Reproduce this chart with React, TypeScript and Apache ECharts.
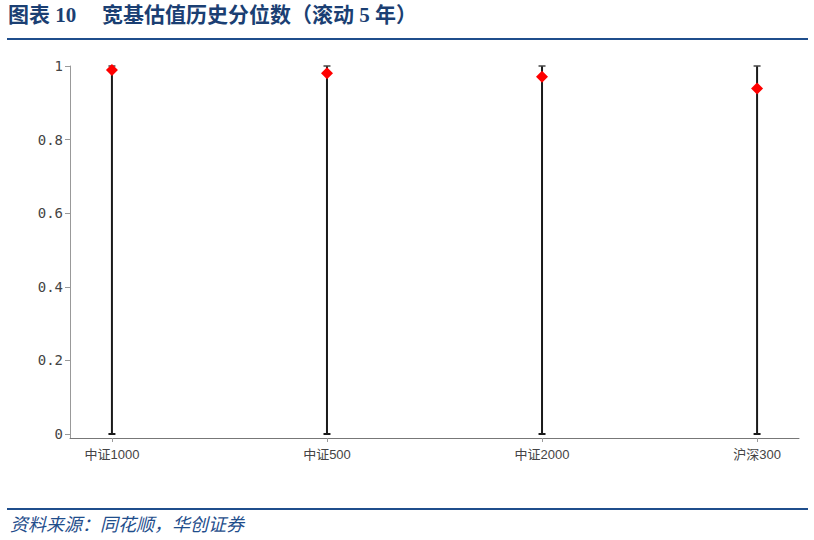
import * as echarts from 'echarts'
import { useEffect, useRef } from 'react'

// chart data
const categories = ['中证1000', '中证500', '中证2000', '沪深300']
const lowValues = [0, 0, 0, 0]
const highValues = [1, 1, 1, 1]
const currentValues = [0.989, 0.98, 0.971, 0.939]
const yTicks = [0, 0.2, 0.4, 0.6, 0.8, 1]

const titleLabel = '图表 10'
const titleText = '宽基估值历史分位数（滚动 5 年）'
const sourceText = '资料来源：同花顺，华创证券'

const BLUE = '#1f4e8c'
const TITLE_FONT = 'Liberation Serif, Noto Sans CJK SC'

const App: React.FC = () => {
  const chartRef = useRef<HTMLDivElement>(null)

  useEffect(() => {
    if (!chartRef.current) return
    const chart = echarts.init(chartRef.current, undefined, { renderer: 'svg' })

    const rangeData = categories.map((_, i) => [i, lowValues[i], highValues[i]])
    const pointData = categories.map((_, i) => [i, currentValues[i]])

    chart.setOption({
      animation: false,
      backgroundColor: '#fff',
      grid: { left: 70, right: 15, top: 66, bottom: 102 },
      xAxis: {
        type: 'value',
        min: -0.195,
        max: 3.195,
        splitLine: { show: false },
        axisLine: { show: true, onZero: false, lineStyle: { color: '#777', width: 1 } },
        axisTick: { show: true, customValues: [0, 1, 2, 3], length: 4, lineStyle: { color: '#999' } },
        axisLabel: {
          customValues: [0, 1, 2, 3],
          formatter: (v: number) => categories[Math.round(v)] ?? '',
          color: '#444',
          fontSize: 13,
          margin: 10,
          fontFamily: 'Liberation Sans, Noto Sans CJK SC',
        },
      },
      yAxis: {
        type: 'value',
        min: -0.0109,
        max: 1,
        splitLine: { show: false },
        axisLine: { show: true, onZero: false, lineStyle: { color: '#999', width: 1 } },
        axisTick: { show: true, customValues: yTicks, length: 5, lineStyle: { color: '#999' } },
        axisLabel: {
          customValues: yTicks,
          formatter: (v: number) => String(Math.round(v * 10) / 10),
          color: '#444',
          fontSize: 14,
          margin: 7,
          fontFamily: 'DejaVu Sans Mono',
        },
      },
      series: [
        {
          type: 'custom',
          data: rangeData,
          encode: { x: 0, y: [1, 2] },
          clip: false,
          z: 2,
          renderItem: (_params: any, api: any) => {
            const x = api.value(0)
            const lo = api.coord([x, api.value(1)])
            const hi = api.coord([x, api.value(2)])
            const half = 3.5
            return {
              type: 'group',
              children: [
                {
                  type: 'line',
                  shape: { x1: lo[0], y1: lo[1], x2: hi[0], y2: hi[1] },
                  style: { stroke: '#1a1a1a', lineWidth: 2 },
                },
                {
                  type: 'line',
                  shape: { x1: hi[0] - half, y1: hi[1], x2: hi[0] + half, y2: hi[1] },
                  style: { stroke: '#444', lineWidth: 1.5 },
                },
                {
                  type: 'line',
                  shape: { x1: lo[0] - half, y1: lo[1], x2: lo[0] + half, y2: lo[1] },
                  style: { stroke: '#1a1a1a', lineWidth: 2 },
                },
              ],
            }
          },
        },
        {
          type: 'scatter',
          data: pointData,
          symbol: 'diamond',
          symbolSize: [12, 12],
          itemStyle: { color: '#ff0000', opacity: 1 },
          z: 3,
        },
      ],
      graphic: [
        {
          type: 'text',
          left: 8,
          top: 4,
          style: {
            text: titleLabel,
            fill: '#1b3f73',
            fontSize: 21,
            fontWeight: 'bold',
            fontFamily: TITLE_FONT,
          },
        },
        {
          type: 'text',
          left: 102,
          top: 4,
          style: {
            text: titleText,
            fill: '#1b3f73',
            fontSize: 21,
            fontWeight: 'bold',
            fontFamily: TITLE_FONT,
          },
        },
        {
          type: 'rect',
          shape: { x: 7, y: 38, width: 801, height: 2 },
          style: { fill: BLUE },
        },
        {
          type: 'rect',
          shape: { x: 7, y: 508, width: 801, height: 2 },
          style: { fill: BLUE },
        },
        {
          type: 'text',
          left: 10,
          top: 514,
          style: {
            text: sourceText,
            fill: BLUE,
            fontSize: 18,
            fontStyle: 'italic',
            fontFamily: 'Noto Sans CJK SC',
          },
        },
      ],
    })

    const resizeChart = () => chart.resize()
    window.addEventListener('resize', resizeChart)
    return () => {
      window.removeEventListener('resize', resizeChart)
      chart.dispose()
    }
  }, [])

  return (
    <div
      ref={chartRef}
      style={{ position: 'absolute', left: 0, top: 0, width: 814, height: 540 }}
    />
  )
}

export default App
